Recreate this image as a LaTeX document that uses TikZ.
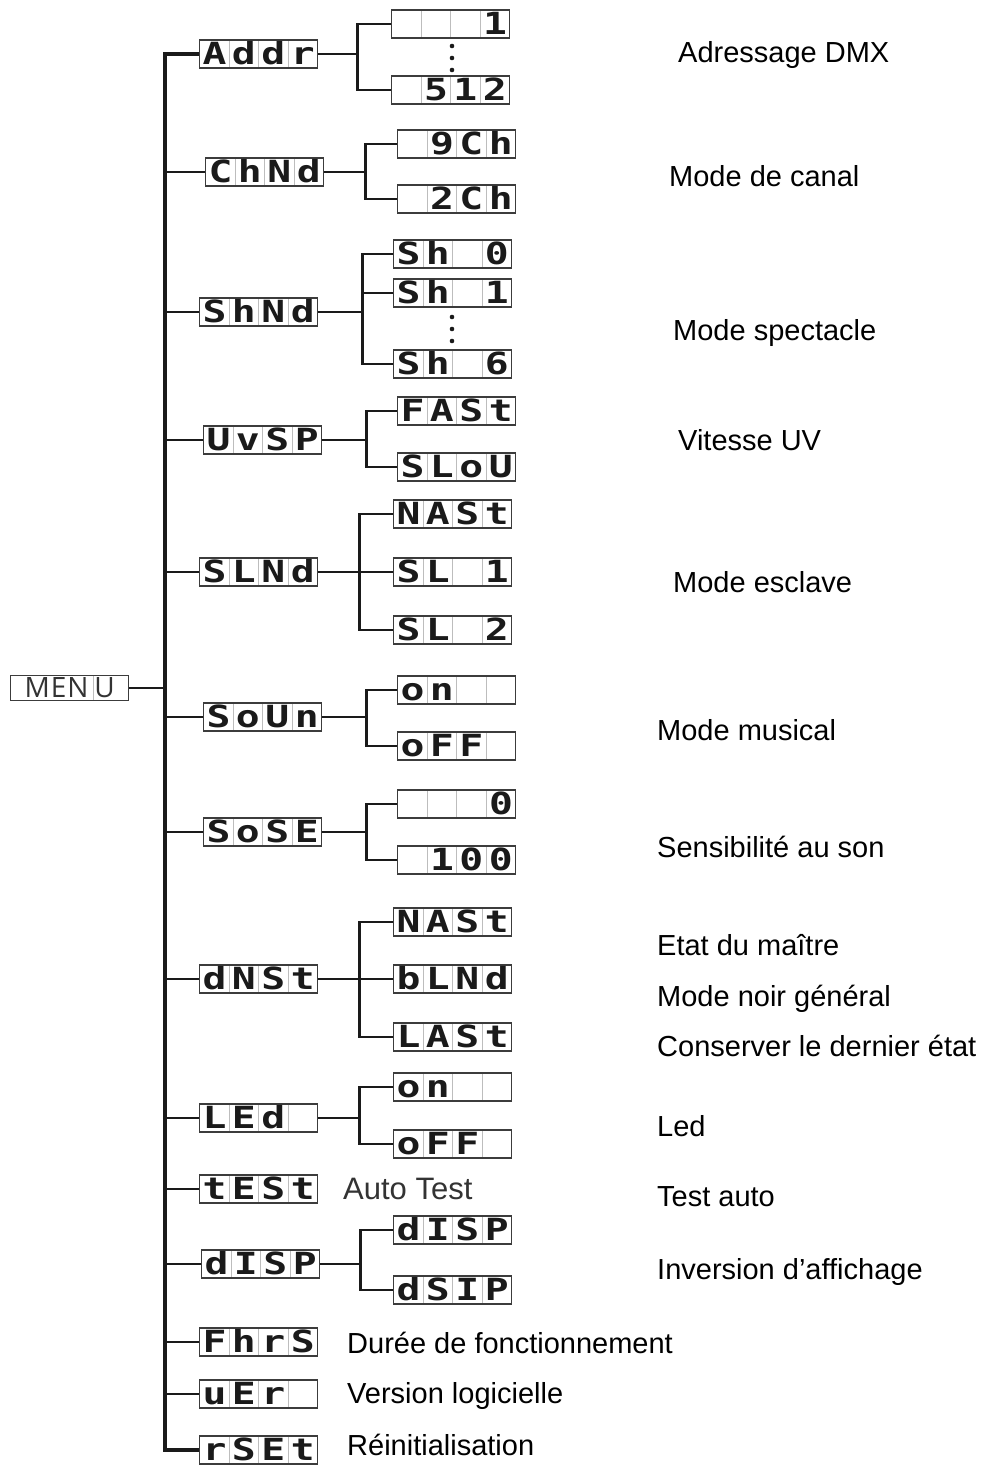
\documentclass[tikz,border=0pt]{standalone}
\usepackage{fontspec}
\setmainfont{Liberation Sans}
\newfontfamily\segfont{DejaVu Sans Mono}[FakeStretch=1.3]
\newfontfamily\menufont{Open Sans}
\usetikzlibrary{positioning,calc}
\definecolor{dpInk}{HTML}{1A1A1A}
\definecolor{dpFrame}{HTML}{3C3C3C}
\definecolor{dpCell}{HTML}{BDBDBD}
\definecolor{dpGray}{HTML}{333333}
% four cells of a display
\newcommand\seg[4]{\makebox[29.5pt]{#1}\makebox[29.5pt]{#2}\makebox[29.5pt]{#3}\makebox[29.5pt]{#4}}
\tikzset{
  dp-box/.style={
    draw=dpFrame, line width=1.4pt, inner sep=0pt, anchor=west,
    minimum width=118pt, minimum height=28pt,
    text height=22pt, text depth=0.5pt, text=dpInk,
    font=\segfont\bfseries\fontsize{30.5pt}{30.5pt}\selectfont,
    path picture={\foreach \k in {1,2,3}
      \draw[dpCell, line width=1pt]
        ([xshift=\k*29.5pt]path picture bounding box.south west) --
        ([xshift=\k*29.5pt]path picture bounding box.north west);}
  },
  dp-menu/.style={
    draw=dpFrame, line width=1.4pt, inner sep=0pt, anchor=west,
    minimum width=118pt, minimum height=25pt, text=dpGray,
    text height=19pt, text depth=0pt,
    font=\menufont\fontsize{28pt}{28pt}\selectfont,
    path picture={\draw[dpCell, line width=1pt]
      ([xshift=83pt]path picture bounding box.south west) --
      ([xshift=83pt]path picture bounding box.north west);}
  },
  dp-link/.style={line width=2.6pt, draw=dpInk},
  dp-trunk/.style={line width=3.2pt, draw=dpInk},
  dp-label/.style={anchor=west, inner sep=0pt, text height=20.5pt, text depth=0pt,
    font=\fontsize{29pt}{34pt}\selectfont, text=black},
  dp-note/.style={dp-label, text=dpGray, font=\fontsize{31pt}{34pt}\selectfont}
}
\begin{document}
\begin{tikzpicture}[x=1pt, y=-1pt]
\useasboundingbox (0,0) rectangle (984,1468);

\node[dp-menu] (menu) at (10,688) {M\kern1ptE\kern1ptN\kern6ptU};

% first level
\node[dp-box] (addr) at (199,54)   {\seg{A}{d}{d}{r}};
\node[dp-box] (chnd) at (205,172)  {\seg{C}{h}{N}{d}};
\node[dp-box] (shnd) at (199,312)  {\seg{S}{h}{N}{d}};
\node[dp-box] (uvsp) at (203,440)  {\seg{U}{v}{S}{P}};
\node[dp-box] (slnd) at (199,572)  {\seg{S}{L}{N}{d}};
\node[dp-box] (soun) at (203,717)  {\seg{S}{o}{U}{n}};
\node[dp-box] (sose) at (203,832)  {\seg{S}{o}{S}{E}};
\node[dp-box] (dnst) at (199,979)  {\seg{d}{N}{S}{t}};
\node[dp-box] (led)  at (199,1118) {\seg{L}{E}{d}{}};
\node[dp-box] (test) at (199,1189) {\seg{t}{E}{S}{t}};
\node[dp-box] (disp) at (201,1264) {\seg{d}{I}{S}{P}};
\node[dp-box] (fhrs) at (199,1342) {\seg{F}{h}{r}{S}};
\node[dp-box] (ver)  at (199,1394) {\seg{u}{E}{r}{}};
\node[dp-box] (rset) at (199,1450) {\seg{r}{S}{E}{t}};

% second level
\node[dp-box] (addr-a) at (391,24)   {\seg{}{}{}{1}};
\node[dp-box] (addr-b) at (391,90)   {\seg{}{5}{1}{2}};
\node[dp-box] (chnd-a) at (397,144)  {\seg{}{9}{C}{h}};
\node[dp-box] (chnd-b) at (397,199)  {\seg{}{2}{C}{h}};
\node[dp-box] (shnd-a) at (393,254)  {\seg{S}{h}{}{0}};
\node[dp-box] (shnd-b) at (393,293)  {\seg{S}{h}{}{1}};
\node[dp-box] (shnd-c) at (393,364)  {\seg{S}{h}{}{6}};
\node[dp-box] (uvsp-a) at (397,411)  {\seg{F}{A}{S}{t}};
\node[dp-box] (uvsp-b) at (397,467)  {\seg{S}{L}{o}{U}};
\node[dp-box] (slnd-a) at (393,514)  {\seg{N}{A}{S}{t}};
\node[dp-box] (slnd-b) at (393,572)  {\seg{S}{L}{}{1}};
\node[dp-box] (slnd-c) at (393,630)  {\seg{S}{L}{}{2}};
\node[dp-box] (soun-a) at (397,690)  {\seg{o}{n}{}{}};
\node[dp-box] (soun-b) at (397,746)  {\seg{o}{F}{F}{}};
\node[dp-box] (sose-a) at (397,804)  {\seg{}{}{}{0}};
\node[dp-box] (sose-b) at (397,860)  {\seg{}{1}{0}{0}};
\node[dp-box] (dnst-a) at (393,922)  {\seg{N}{A}{S}{t}};
\node[dp-box] (dnst-b) at (393,979)  {\seg{b}{L}{N}{d}};
\node[dp-box] (dnst-c) at (393,1037) {\seg{L}{A}{S}{t}};
\node[dp-box] (led-a)  at (393,1087) {\seg{o}{n}{}{}};
\node[dp-box] (led-b)  at (393,1144) {\seg{o}{F}{F}{}};
\node[dp-box] (disp-a) at (393,1230) {\seg{d}{I}{S}{P}};
\node[dp-box] (disp-b) at (393,1290) {\seg{d}{S}{I}{P}};

% dots
\foreach \y in {46,58,70}   \fill[dpInk] (452,\y) circle (2.3);
\foreach \y in {317,329,341} \fill[dpInk] (452,\y) circle (2.3);

% labels
\node[dp-label] (l-addr) at (678,52)   {Adressage DMX};
\node[dp-label] (l-chnd) at (669,176)  {Mode de canal};
\node[dp-label] (l-shnd) at (673,330)  {Mode spectacle};
\node[dp-label] (l-uvsp) at (678,440)  {Vitesse UV};
\node[dp-label] (l-slnd) at (673,582)  {Mode esclave};
\node[dp-label] (l-soun) at (657,730)  {Mode musical};
\node[dp-label] (l-sose) at (657,847)  {Sensibilité au son};
\node[dp-label] (l-nast) at (657,945)  {Etat du maître};
\node[dp-label] (l-blnd) at (657,996)  {Mode noir général};
\node[dp-label] (l-last) at (657,1046) {Conserver le dernier état};
\node[dp-label] (l-led)  at (657,1126) {Led};
\node[dp-label] (l-test) at (657,1196) {Test auto};
\node[dp-label] (l-disp) at (657,1269) {Inversion d’affichage};
\node[dp-note]  (n-test) at (343,1189) {Auto Test};
\node[dp-label] (l-fhrs) at (347,1343) {Durée de fonctionnement};
\node[dp-label] (l-ver)  at (347,1393) {Version logicielle};
\node[dp-label] (l-rset) at (347,1445) {Réinitialisation};

% trunk
\coordinate (trunk-top) at (165,54);
\coordinate (trunk-bot) at (165,1450);
\draw[dp-trunk] (addr.west) -- (trunk-top) -- (trunk-bot) -- (rset.west);
\foreach \n in {chnd,shnd,uvsp,slnd,soun,sose,dnst,led,test,disp,fhrs,ver}
  \draw[dp-link] (\n.west) -- (\n.west -| trunk-top);
\draw[dp-link] (menu.east) -- (menu.east -| trunk-top);

% forks with two branches
\foreach \p/\d in {addr/39,chnd/41,uvsp/44,soun/44,sose/44,led/41,disp/40}{
  \draw[dp-link] (\p.east) -- ++(\d,0) coordinate (\p-f);
  \draw[dp-link] (\p-a.west) -| (\p-f) |- (\p-b.west);
}
% forks with three branches
\foreach \p/\d in {shnd/44,slnd/41,dnst/41}{
  \draw[dp-link] (\p.east) -- ++(\d,0) coordinate (\p-f);
  \draw[dp-link] (\p-a.west) -| (\p-f) |- (\p-c.west);
  \draw[dp-link] (\p-b.west) -- (\p-b.west -| \p-f);
}
\end{tikzpicture}
\end{document}
